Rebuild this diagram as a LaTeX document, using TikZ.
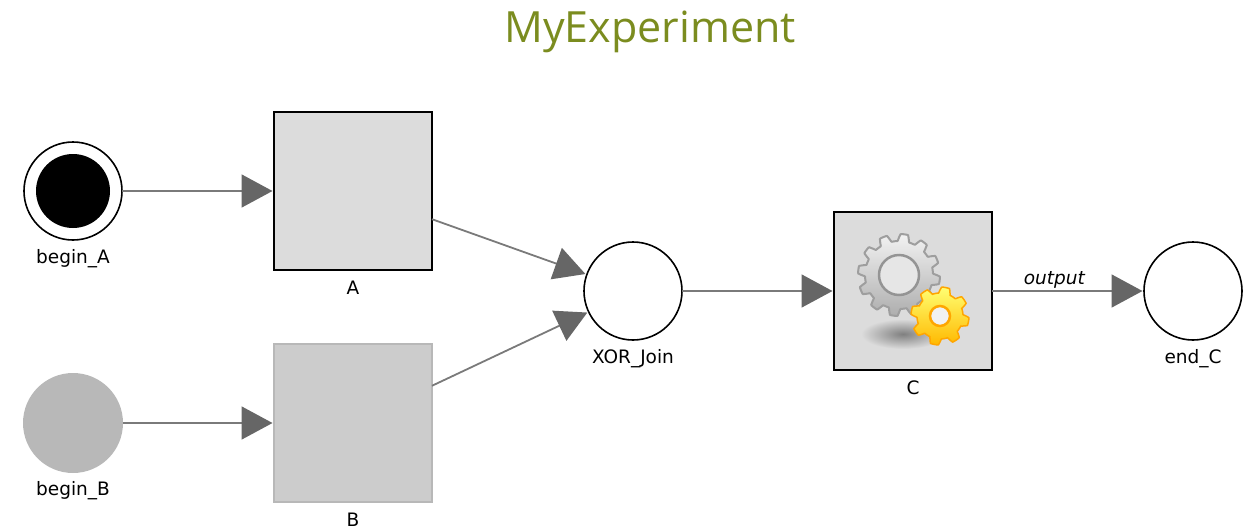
\documentclass[tikz,border=0pt]{standalone}
\usepackage{fontspec}
\setmainfont{DejaVu Sans}
\newfontfamily\titlefont{Open Sans}
\usetikzlibrary{arrows.meta}
\definecolor{boxgray}{HTML}{DCDCDC}
\definecolor{dimgray}{HTML}{CCCCCC}
\definecolor{dimline}{HTML}{B8B8B8}
\definecolor{edgegray}{HTML}{666666}
\definecolor{linegray}{HTML}{7A7A7A}
\definecolor{titlegreen}{HTML}{7B8C1F}
\tikzset{
    place/.style={draw, circle, line width=1.6pt, minimum size=98pt, inner sep=0pt, outer sep=0pt, fill=white,
        label={[font=\fontsize{18.5}{18.5}\selectfont, label distance=6pt]below:#1}},
    dimplace/.style={circle, minimum size=100pt, inner sep=0pt, outer sep=0pt, fill=dimline,
        label={[font=\fontsize{18.5}{18.5}\selectfont, label distance=5pt]below:#1}},
    task/.style={draw, line width=1.8pt, minimum size=158pt, inner sep=0pt, outer sep=0pt, fill=boxgray,
        label={[font=\fontsize{18.5}{18.5}\selectfont, label distance=7pt]below:#1}},
    dimtask/.style={draw=dimline, line width=1.8pt, minimum size=158pt, inner sep=0pt, outer sep=0pt, fill=dimgray,
        label={[font=\fontsize{18.5}{18.5}\selectfont, label distance=7pt]below:#1}},
    flow/.style={-{Triangle[length=31pt, width=33pt, color=edgegray]}, line width=1.8pt, draw=linegray, shorten >=1.5pt},
}
% gear outline: root radius, tooth height, number of teeth
\newcommand{\gearpath}[3]{plot[samples=361, domain=0:360, smooth] (\x:{#1+#2*(0.5+0.5*max(-1,min(1,2.2*sin(#3*\x))))}) -- cycle}
\begin{document}
\begin{tikzpicture}[x=1pt, y=-1pt]
    \useasboundingbox (0,0) rectangle (1259,528);
    \node[font=\titlefont\fontsize{43}{43}\selectfont, text=titlegreen] (title) at (650,32) {MyExperiment};

    \node[place=begin\_A] (beginA) at (73,191) {};
    \node[circle, fill=black, minimum size=74pt, inner sep=0pt] (token) at (beginA) {};
    \node[dimplace=begin\_B] (beginB) at (73,423) {};
    \node[task=A] (A) at (353,191) {};
    \node[dimtask=B] (B) at (353,423) {};
    \node[place=XOR\_Join] (xorJoin) at (633,291) {};
    \node[task=C] (C) at (913,291) {};
    \node[place=end\_C] (endC) at (1193,291) {};

    % icon of task C
    \shade[inner color=black!50, outer color=boxgray] (903,334) ellipse (42 and 15);
    \begin{scope}[shift={(899,275)}]
        \draw[line width=2pt, draw=black!38, top color=black!5, bottom color=black!32] \gearpath{34}{7}{12};
        \draw[line width=2.5pt, draw=black!42, fill=boxgray!70] (0,0) circle (20);
    \end{scope}
    \begin{scope}[shift={(940,316)}]
        \draw[line width=1.5pt, draw=orange!70!yellow, top color=yellow!55, bottom color=orange!55!yellow] \gearpath{23}{6}{8};
        \draw[line width=2.5pt, draw=orange!70!yellow, fill=boxgray!40] (0,0) circle (10);
    \end{scope}

    \draw[flow] (beginA) -- (A);
    \draw[flow] (beginB) -- (B);
    \draw[flow] (A) -- (xorJoin);
    \draw[flow] (B) -- (xorJoin);
    \draw[flow] (xorJoin) -- (C);
    \draw[flow] (C) -- node[above=-2pt, pos=0.41, font=\itshape\fontsize{18.5}{18.5}\selectfont, text=black] {output} (endC);
\end{tikzpicture}
\end{document}
